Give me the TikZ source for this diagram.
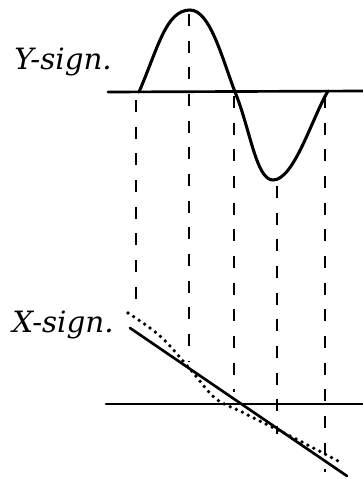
\documentclass[tikz,border=0pt]{standalone}
\usepackage{fontspec}
\setmainfont{DejaVu Serif}
\tikzset{
  axisline/.style={line width=2pt, line cap=round},
  wave/.style={line width=2.3pt, line cap=round},
  proj/.style={line width=1.6pt, dash pattern=on 9pt off 11pt},
  approx/.style={line width=2.8pt, line cap=round, dash pattern=on 0pt off 5pt},
  lbl/.style={font=\fontsize{22}{22}\selectfont\itshape, inner sep=0pt}
}
\begin{document}
\begin{tikzpicture}[x=0.75pt,y=-0.75pt]
\useasboundingbox (0,0) rectangle (363,479);
% labels
\node[lbl] (ylab) at (63,62) {Y-sign.};
\node[lbl] (xlab) at (63,325) {X-sign.};
% top axis
\coordinate (ta0) at (108,92);
\coordinate (ta1) at (363,91);
\draw[axisline] (ta0) -- (ta1);
% sine
\coordinate (s0) at (139,92);
\coordinate (s1) at (190,10);
\coordinate (s2) at (235,92);
\coordinate (s3) at (273,180);
\coordinate (s4) at (328,91);
\draw[wave] (s0) .. controls (158,48) and (166,10) .. (s1)
  .. controls (210,10) and (222,58) .. (s2)
  .. controls (250,128) and (256,180) .. (s3)
  .. controls (294,180) and (312,118) .. (s4);
% projection lines
\coordinate (p1a) at (136,100); \coordinate (p1b) at (136,313);
\coordinate (p2a) at (189,14);  \coordinate (p2b) at (189,362);
\coordinate (p3a) at (234,96);  \coordinate (p3b) at (234,392);
\coordinate (p4a) at (277,186); \coordinate (p4b) at (277,434);
\coordinate (p5a) at (325,96);  \coordinate (p5b) at (325,472);
\draw[proj] (p1a) -- (p1b);
\draw[proj] (p2a) -- (p2b);
\draw[proj] (p3a) -- (p3b);
\draw[proj] (p4a) -- (p4b);
\draw[proj] (p5a) -- (p5b);
% bottom axis
\coordinate (ba0) at (106,404);
\coordinate (ba1) at (363,404);
\draw[axisline] (ba0) -- (ba1);
% straight line
\coordinate (l0) at (130,328);
\coordinate (l1) at (347,476);
\draw[axisline] (l0) -- (l1);
% dotted approximation
\draw[approx] plot[smooth, tension=0.6] coordinates {(128,313) (160,336) (190,369) (215,398) (240,411) (270,426) (300,441) (340,462)};
\end{tikzpicture}
\end{document}
